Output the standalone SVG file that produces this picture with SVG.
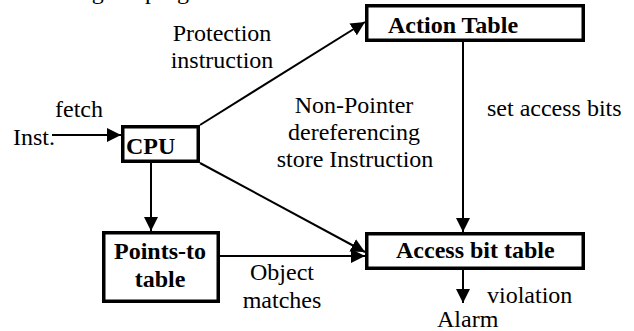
<svg xmlns="http://www.w3.org/2000/svg" width="634" height="331" viewBox="0 0 634 331">
  <style>
    text { font-family: "Liberation Serif", "Times New Roman", serif; font-size: 24px; fill: #000; }
    .bold { font-weight: bold; }
    .mid { text-anchor: middle; }
    .box { fill: #fff; stroke: #000; stroke-width: 3.5; }
    .edge { fill: none; stroke: #000; stroke-width: 2; marker-end: url(#arrow); }
  </style>
  <defs>
    <marker id="arrow" markerUnits="userSpaceOnUse" markerWidth="14" markerHeight="14" refX="14" refY="7" orient="auto">
      <path d="M0,0 L14,7 L0,14 z" fill="#000"/>
    </marker>
  </defs>
  <rect width="634" height="331" fill="#fff"/>

  <!-- caption line running off the top edge -->
  <text x="41" y="-1">during the program</text>

  <g id="connectors">
    <line class="edge" x1="52" y1="135" x2="121" y2="135"/>
    <line class="edge" x1="200" y1="125" x2="365" y2="22"/>
    <line class="edge" x1="200" y1="163" x2="365" y2="252"/>
    <line class="edge" x1="463" y1="42" x2="463" y2="232"/>
    <line class="edge" x1="151" y1="163" x2="151" y2="231"/>
    <line class="edge" x1="220" y1="256" x2="365" y2="256"/>
    <line class="edge" x1="463" y1="268" x2="463" y2="303"/>
  </g>

  <g id="labels">
    <text x="55" y="117">fetch</text>
    <text x="13" y="145">Inst.</text>
    <text class="mid" x="222" y="41">Protection</text>
    <text class="mid" x="222" y="68">instruction</text>
    <text class="mid" x="354" y="113">Non-Pointer</text>
    <text class="mid" x="354" y="140">dereferencing</text>
    <text class="mid" x="355" y="167">store Instruction</text>
    <text x="487" y="116">set access bits</text>
    <text class="mid" x="282" y="280">Object</text>
    <text class="mid" x="282" y="308">matches</text>
    <text x="487" y="303">violation</text>
    <text x="437" y="327">Alarm</text>
  </g>

  <g id="action-table">
    <rect class="box" x="366.75" y="5.75" width="216.5" height="34.5"/>
    <text class="bold" x="388" y="33">Action Table</text>
  </g>

  <g id="cpu">
    <rect class="box" x="122.75" y="126.75" width="75.5" height="34.5"/>
    <text class="bold" x="126" y="154">CPU</text>
  </g>

  <g id="points-to-table">
    <rect class="box" x="103.75" y="232.75" width="114.5" height="68.5"/>
    <text class="bold mid" x="160" y="259">Points-to</text>
    <text class="bold mid" x="160" y="287">table</text>
  </g>

  <g id="access-bit-table">
    <rect class="box" x="366.75" y="233.75" width="216.5" height="34.5"/>
    <text class="bold" x="396" y="258">Access bit table</text>
  </g>
</svg>
